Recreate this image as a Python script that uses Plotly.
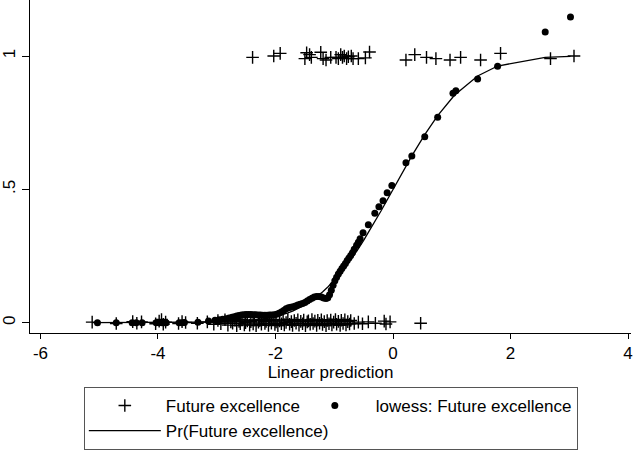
import plotly.graph_objects as go

# ---- data ----
# observed outcome = 1 (plotted with jitter), (linear prediction, jittered y)
one_pts = [(-2.39, 0.995), (-2.03, 1.0), (-1.92, 1.01), (-1.50, 0.99), (-1.47, 1.012),
           (-1.42, 1.005), (-1.39, 0.995), (-1.23, 1.014), (-1.19, 0.99), (-1.14, 0.985),
           (-1.06, 0.995), (-0.97, 0.995), (-0.93, 0.99), (-0.89, 1.005), (-0.86, 0.995),
           (-0.83, 1.0), (-0.79, 0.99), (-0.76, 0.997), (-0.71, 1.0), (-0.68, 0.99),
           (-0.59, 0.99), (-0.47, 0.993), (-0.40, 1.015),
           (0.22, 0.985), (0.37, 1.005), (0.57, 0.995), (0.73, 0.99), (0.97, 0.985),
           (1.15, 0.995), (1.49, 0.985), (1.83, 1.01), (2.68, 0.99), (3.08, 1.0)]

# observed outcome = 0 (plotted with jitter)
zero_pts = [(-5.12, 0.002), (-4.71, -0.003), (-4.43, 0.004), (-4.36, -0.002), (-4.28, 0.003),
            (-4.04, -0.004), (-3.98, 0.006), (-3.94, 0.012), (-3.91, -0.006), (-3.87, 0.002),
            (-3.65, -0.003), (-3.59, 0.004), (-3.53, 0.001), (-3.33, -0.002), (-3.16, 0.003),
            (-3.05, -0.006), (-2.98, 0.008), (-2.93, -0.004), (-2.86, 0.011), (-2.81, -0.009),
            (-2.76, 0.003), (-2.73, -0.002), (-2.69, 0.009), (-2.66, -0.011), (-2.62, 0.005),
            (-2.60, -0.004), (-2.57, 0.012), (-2.53, -0.008), (-2.51, 0.0), (-2.48, 0.007),
            (-2.44, -0.009), (-2.42, 0.004), (-2.38, -0.005), (-2.36, 0.010), (-2.33, -0.011),
            (-2.29, 0.002), (-2.27, 0.008), (-2.24, -0.006), (-2.21, 0.011), (-2.18, -0.003),
            (-2.16, 0.005), (-2.12, -0.010), (-2.10, 0.009), (-2.07, -0.002), (-2.04, 0.012),
            (-2.01, -0.007), (-1.99, 0.003), (-1.96, -0.011), (-1.93, 0.007), (-1.90, -0.004),
            (-1.87, 0.010), (-1.85, -0.008), (-1.82, 0.001), (-1.79, 0.012), (-1.76, -0.006),
            (-1.73, 0.004), (-1.71, -0.010), (-1.68, 0.008), (-1.65, -0.002), (-1.62, 0.011),
            (-1.60, -0.009), (-1.57, 0.005), (-1.54, -0.004), (-1.52, 0.010), (-1.49, -0.011),
            (-1.46, 0.003), (-1.44, 0.007), (-1.41, -0.006), (-1.38, 0.012), (-1.36, -0.003),
            (-1.33, 0.006), (-1.30, -0.010), (-1.28, 0.009), (-1.25, -0.002), (-1.22, 0.011),
            (-1.20, -0.007), (-1.17, 0.004), (-1.14, -0.011), (-1.12, 0.008), (-1.09, -0.004),
            (-1.06, 0.010), (-1.04, -0.008), (-1.01, 0.002), (-0.98, 0.012), (-0.96, -0.006),
            (-0.93, 0.005), (-0.90, -0.010), (-0.88, 0.009), (-0.85, -0.003), (-0.82, 0.011),
            (-0.80, -0.008), (-0.77, 0.004), (-0.74, -0.005), (-0.72, 0.008),
            (-0.66, -0.003), (-0.59, 0.002), (-0.52, -0.004), (-0.42, 0.003), (-0.30, -0.002),
            (-0.15, 0.006), (-0.12, -0.005), (-0.05, 0.003), (0.47, -0.002)]

# lowess smooth of outcome on linear prediction
lowess_pts = [(-5.03, 0.0), (-4.71, 0.0), (-4.44, 0.0), (-4.37, 0.0), (-4.27, 0.0),
              (-4.03, 0.0), (-3.98, 0.0), (-3.93, 0.0), (-3.90, 0.0), (-3.86, 0.0),
              (-3.64, 0.0), (-3.59, 0.0), (-3.55, 0.001), (-3.32, 0.002), (-3.14, 0.006),
              (-3.03, 0.009), (-2.96, 0.011), (-2.90, 0.013), (-2.84, 0.015), (-2.79, 0.018),
              (-2.74, 0.020), (-2.70, 0.022), (-2.66, 0.025), (-2.62, 0.027), (-2.58, 0.029),
              (-2.54, 0.030), (-2.50, 0.031), (-2.46, 0.031), (-2.42, 0.031), (-2.38, 0.030),
              (-2.34, 0.030), (-2.30, 0.029), (-2.26, 0.029), (-2.22, 0.028), (-2.18, 0.028),
              (-2.14, 0.028), (-2.10, 0.029), (-2.06, 0.029), (-2.02, 0.030), (-1.98, 0.032),
              (-1.94, 0.035), (-1.90, 0.040), (-1.86, 0.046), (-1.82, 0.052), (-1.78, 0.056),
              (-1.74, 0.058), (-1.70, 0.060), (-1.66, 0.063), (-1.62, 0.066), (-1.58, 0.069),
              (-1.54, 0.072), (-1.50, 0.076), (-1.46, 0.081), (-1.42, 0.087), (-1.38, 0.092),
              (-1.34, 0.096), (-1.30, 0.098), (-1.26, 0.098), (-1.22, 0.096), (-1.18, 0.093),
              (-1.14, 0.091), (-1.11, 0.094), (-1.08, 0.105), (-1.05, 0.122), (-1.02, 0.140),
              (-0.99, 0.157), (-0.96, 0.170), (-0.93, 0.183), (-0.90, 0.193), (-0.87, 0.203),
              (-0.84, 0.213), (-0.81, 0.222), (-0.78, 0.233), (-0.75, 0.243), (-0.72, 0.252),
              (-0.69, 0.262), (-0.66, 0.275), (-0.62, 0.290), (-0.59, 0.302), (-0.56, 0.315),
              (-0.51, 0.337), (-0.42, 0.367), (-0.31, 0.410), (-0.24, 0.435), (-0.17, 0.457),
              (-0.10, 0.487), (-0.02, 0.514), (0.22, 0.600), (0.32, 0.625), (0.54, 0.697),
              (0.76, 0.770), (1.02, 0.860), (1.07, 0.870), (1.44, 0.914), (1.78, 0.962),
              (2.59, 1.090), (3.02, 1.146)]

# predicted probability Pr(Future excellence)
pr_pts = [(-5.12, 0.0), (-4.5, 0.0), (-4.0, 0.0), (-3.5, 0.0002), (-3.0, 0.0013),
          (-2.8, 0.0026), (-2.6, 0.0047), (-2.4, 0.0082), (-2.2, 0.0139), (-2.0, 0.0228),
          (-1.9, 0.0287), (-1.8, 0.0359), (-1.7, 0.0446), (-1.6, 0.0548), (-1.5, 0.0668),
          (-1.4, 0.0808), (-1.3, 0.0968), (-1.2, 0.1151), (-1.1, 0.1357), (-1.0, 0.1587),
          (-0.9, 0.1841), (-0.8, 0.2119), (-0.7, 0.2420), (-0.6, 0.2743), (-0.5, 0.3085),
          (-0.4, 0.3446), (-0.3, 0.3821), (-0.2, 0.4207), (-0.1, 0.4602), (-0.02, 0.492),
          (0.22, 0.5871), (0.32, 0.6255), (0.54, 0.7054), (0.76, 0.7764), (1.02, 0.8461),
          (1.07, 0.8577), (1.44, 0.9251), (1.78, 0.9625), (2.59, 0.9952), (3.02, 0.9987)]

x_ticks = [-6, -4, -2, 0, 2, 4]
x_tick_labels = ["-6", "-4", "-2", "0", "2", "4"]
y_ticks = [0, 0.5, 1]
y_tick_labels = ["0", ".5", "1"]

names = ["Future excellence", "lowess: Future excellence", "Pr(Future excellence)"]
x_title = "Linear prediction"

# ---- figure ----
FONT = "Liberation Sans, Arial, Helvetica, sans-serif"
obs_x = [p[0] for p in one_pts] + [p[0] for p in zero_pts]
obs_y = [p[1] for p in one_pts] + [p[1] for p in zero_pts]

fig = go.Figure()
fig.add_trace(go.Scatter(
    x=obs_x, y=obs_y, mode="markers", name=names[0],
    legendgroup="a", legendwidth=123,
    marker=dict(symbol="cross-thin", size=9, color="black",
                line=dict(color="black", width=1.4)),
))
fig.add_trace(go.Scatter(
    x=[p[0] for p in lowess_pts], y=[p[1] for p in lowess_pts],
    mode="markers", name=names[1], legendgroup="b",
    marker=dict(symbol="circle", size=7, color="black", line=dict(width=0)),
))
fig.add_trace(go.Scatter(
    x=[p[0] for p in pr_pts], y=[p[1] for p in pr_pts],
    mode="lines", name=names[2], legendgroup="a", legendwidth=123,
    line=dict(color="black", width=1.3),
))

fig.update_layout(
    width=633, height=454,
    margin=dict(l=30, r=0, t=0, b=121),
    paper_bgcolor="white", plot_bgcolor="white",
    font=dict(family=FONT, size=17, color="black"),
    showlegend=True,
    legend=dict(
        orientation="h", traceorder="grouped", tracegroupgap=0,
        x=(84 - 30) / 603, xanchor="left", y=(333 - 387) / 333, yanchor="top",
        bordercolor="#555555", borderwidth=1, bgcolor="white",
        itemwidth=72, font=dict(family=FONT, size=17, color="black"),
    ),
    xaxis=dict(
        range=[-6.178, 4.05], tickvals=x_ticks, ticktext=x_tick_labels,
        ticks="outside", ticklen=5, ticklabeloverflow="allow",
        tickcolor="black", showline=True, linecolor="black", linewidth=1,
        showgrid=False, zeroline=False,
        title=dict(text=x_title, standoff=2, font=dict(family=FONT, size=17)),
        tickfont=dict(family=FONT, size=17),
    ),
    yaxis=dict(
        range=[-0.0386, 1.21], tickvals=y_ticks, ticktext=y_tick_labels,
        ticks="outside", ticklen=7, tickcolor="black", tickangle=-90,
        showline=True, linecolor="black", linewidth=1,
        showgrid=False, zeroline=False,
        tickfont=dict(family=FONT, size=17),
    ),
)

fig.write_html("out.html")
